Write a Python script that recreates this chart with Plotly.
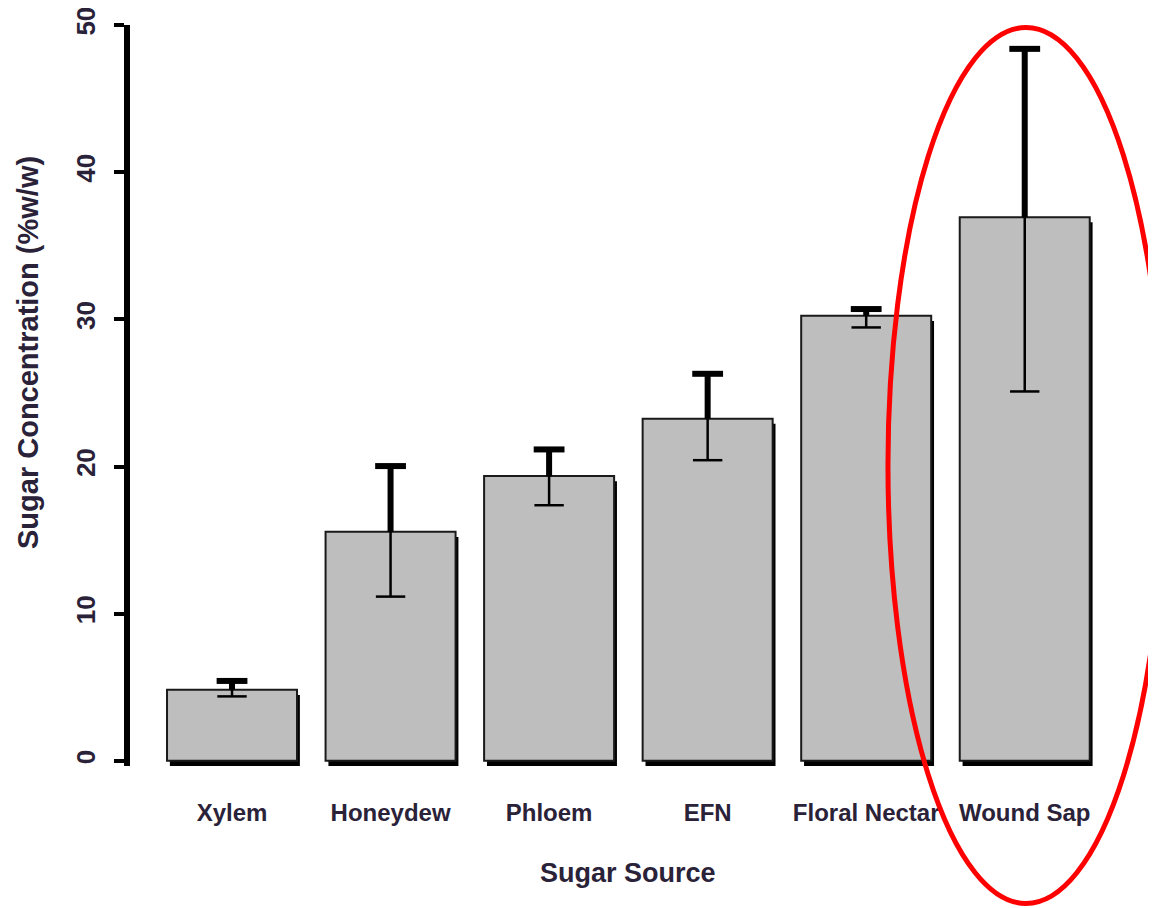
import plotly.graph_objects as go

categories = ["Xylem", "Honeydew", "Phloem", "EFN", "Floral Nectar", "Wound Sap"]
means = [4.83, 15.56, 19.35, 23.25, 30.24, 36.94]
upper_err = [0.60, 4.47, 1.81, 3.05, 0.46, 11.44]
lower_err = [0.45, 4.40, 1.98, 2.82, 0.79, 11.84]
y_ticks = [0, 10, 20, 30, 40, 50]

upper_ends = [m + e for m, e in zip(means, upper_err)]
lower_ends = [m - e for m, e in zip(means, lower_err)]

FONT = "Liberation Sans, Arial, sans-serif"
TXT = "#2a2238"
BAR_W = 0.82
SHADOW_DX = 0.018
SHADOW_DY = 0.35

PLOT_H = 741.0


def tfont(size):
    return dict(family=FONT, size=size, color=TXT, weight="bold")


fig = go.Figure()

# dark drop-shadow under bars (thick bottom/right edge)
fig.add_trace(go.Bar(
    x=categories, y=means, base=-SHADOW_DY,
    width=BAR_W, offset=-BAR_W / 2 + SHADOW_DX,
    marker=dict(color="black", line=dict(width=0)),
    hoverinfo="skip", cliponaxis=False,
))
# grey bars
fig.add_trace(go.Bar(
    x=categories, y=means, width=BAR_W, offset=-BAR_W / 2,
    marker=dict(color="#bebebe", line=dict(color="#1a1a1a", width=2)),
    hoverinfo="skip",
))
# thin lower stems
fig.add_trace(go.Scatter(
    x=categories, y=means, mode="markers",
    marker=dict(size=1, color="rgba(0,0,0,0)"),
    error_y=dict(type="data", symmetric=False, array=[0] * len(means),
                 arrayminus=lower_err, color="black", thickness=2.5, width=0),
    hoverinfo="skip",
))
# thin lower caps
fig.add_trace(go.Scatter(
    x=categories, y=lower_ends, mode="markers",
    marker=dict(symbol="line-ew", size=21, line=dict(color="black", width=2.5)),
    hoverinfo="skip",
))
# thick upper stems
fig.add_trace(go.Scatter(
    x=categories, y=means, mode="markers",
    marker=dict(size=1, color="rgba(0,0,0,0)"),
    error_y=dict(type="data", symmetric=False, array=upper_err,
                 arrayminus=[0] * len(means), color="black", thickness=6, width=0),
    hoverinfo="skip",
))
# thick upper caps
fig.add_trace(go.Scatter(
    x=categories, y=upper_ends, mode="markers",
    marker=dict(symbol="line-ew", size=22, line=dict(color="black", width=6)),
    hoverinfo="skip",
))

fig.update_layout(
    width=1148, height=900,
    margin=dict(l=122, r=52, t=17, b=142),
    plot_bgcolor="white", paper_bgcolor="white",
    barmode="overlay", showlegend=False,
    xaxis=dict(
        range=[-0.6435, 5.5], showline=False, showgrid=False, zeroline=False,
        ticks="", ticklabelstandoff=30, tickangle=0, automargin=False,
        ticklabeloverflow="allow",
        tickfont=tfont(24),
    ),
    yaxis=dict(
        range=[-SHADOW_DY, 50.001], tickvals=y_ticks, tickangle=-90,
        ticks="outside", ticklen=10, tickwidth=4, tickcolor="black",
        showline=True, linewidth=6, linecolor="black", automargin=False,
        showgrid=False, zeroline=False, ticklabelstandoff=9,
        ticklabeloverflow="allow",
        tickfont=tfont(26),
    ),
    annotations=[
        dict(text="Sugar Concentration (%w/w)", xref="paper", yref="paper",
             x=(28 - 130) / 974, y=(766 - 353) / PLOT_H, showarrow=False, textangle=-90,
             xanchor="center", yanchor="middle", font=tfont(29)),
        dict(text="Sugar Source", xref="paper", yref="paper",
             x=(628 - 130) / 974, y=(766 - 873) / PLOT_H, showarrow=False,
             xanchor="center", yanchor="middle", font=tfont(27)),
    ],
    shapes=[
        dict(type="circle", xref="paper", yref="paper",
             x0=0.7782, x1=1.0616,
             y0=(766 - 903.5) / PLOT_H, y1=(766 - 27.5) / PLOT_H,
             line=dict(color="#ff0000", width=5), layer="above"),
    ],
)

fig.write_html("out.html")
